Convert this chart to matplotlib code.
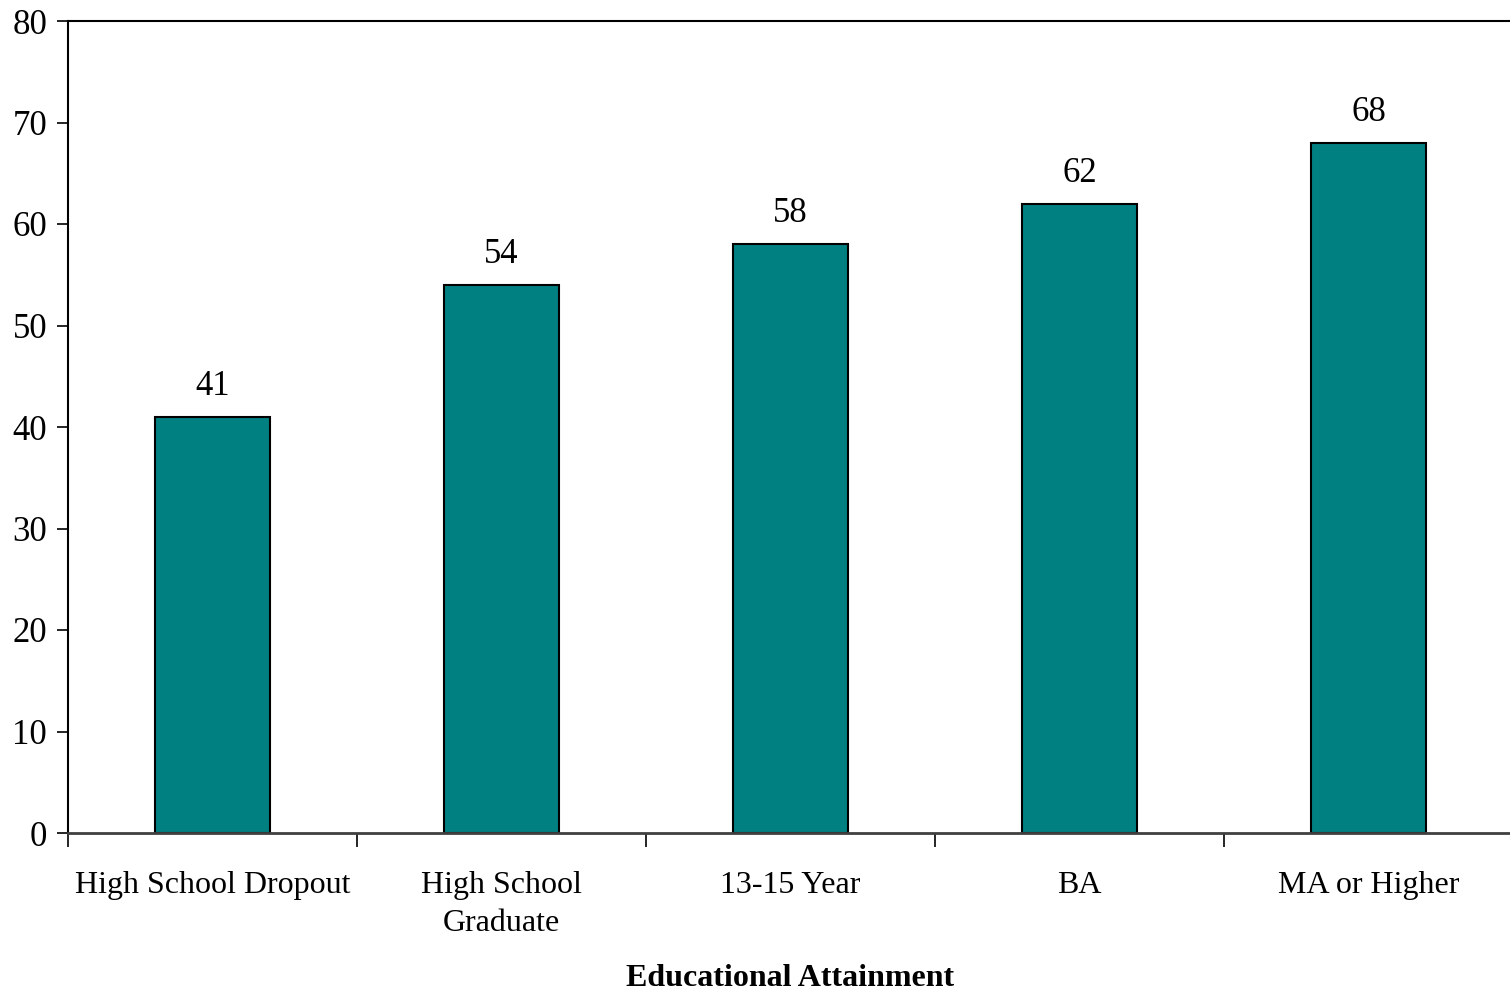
import numpy as np
import matplotlib.pyplot as plt

# =============================================================================
# DATA
# =============================================================================
categories = ["High School Dropout", "High School\nGraduate", "13-15 Year", "BA", "MA or Higher"]
values = [41, 54, 58, 62, 68]
y_ticks = [0, 10, 20, 30, 40, 50, 60, 70, 80]

BAR_COLOR = "#008080"

plt.rcParams["font.family"] = ["Liberation Serif", "DejaVu Serif"]

fig = plt.figure(figsize=(15.1, 9.91), dpi=100)
ax = fig.add_axes([68 / 1510, 1 - 833 / 991, 1445 / 1510, (833 - 21) / 991])

x = np.arange(len(categories))
ax.bar(x, values, width=0.4, color=BAR_COLOR, edgecolor="black", linewidth=1.5)

# value labels above each bar
for xi, v in zip(x, values):
    ax.annotate(str(v), (xi, v), xytext=(0, 10), textcoords="offset points",
                ha="center", va="bottom", fontsize=25)

ax.set_xlim(-0.5, len(categories) - 0.5)
ax.set_ylim(0, 80)
ax.set_yticks(y_ticks)
ax.tick_params(axis="y", labelsize=25, length=8, width=1.2, direction="out", pad=7)

# category labels centred, tick marks at the boundaries
ax.set_xticks(x)
ax.set_xticklabels(categories, fontsize=23, linespacing=1.4)
ax.tick_params(axis="x", which="major", length=0, pad=27.5)
ax.set_xticks(np.arange(len(categories) + 1) - 0.5, minor=True)
ax.tick_params(axis="x", which="minor", length=10, width=1.2, direction="out")

ax.spines["right"].set_visible(False)
ax.spines["top"].set_linewidth(1.5)
ax.spines["left"].set_linewidth(1.5)
ax.spines["bottom"].set_linewidth(2)
ax.spines["bottom"].set_color("#404040")

ax.set_xlabel("Educational Attainment", fontsize=23, fontweight="bold", va="center")
ax.xaxis.set_label_coords(0.5, -(978 - 833) / 812)

fig.savefig("out.png", dpi=100)
